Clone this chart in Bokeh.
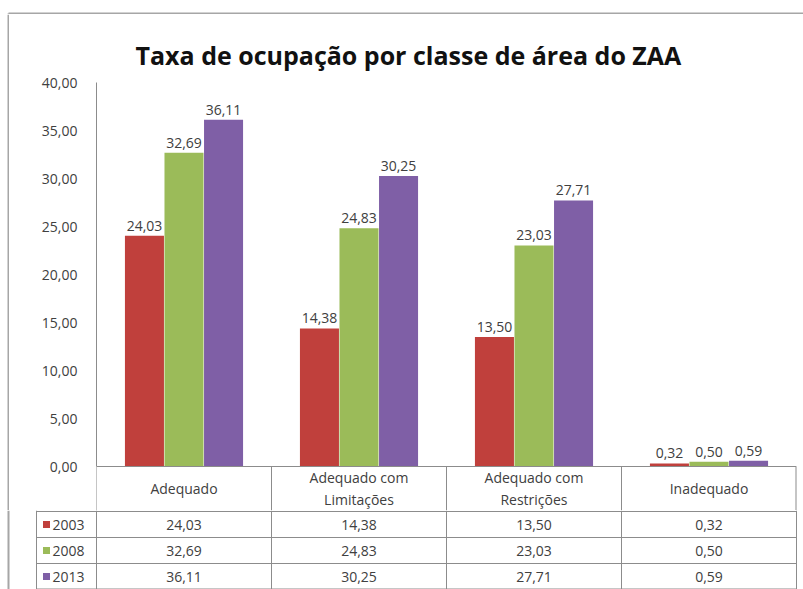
from bokeh.plotting import figure
from bokeh.models import (FactorRange, Range1d, FixedTicker, CustomJSTickFormatter,
                          ColumnDataSource, Span)
from bokeh.transform import dodge
from bokeh.layouts import column, row
from bokeh.embed import file_html
from bokeh.resources import INLINE
from bokeh.core.properties import value

# ---------------- data ----------------
title_text = "Taxa de ocupação por classe de área do ZAA"
categories = ["Adequado", "Adequado com Limitações", "Adequado com Restrições", "Inadequado"]
category_labels = ["Adequado", "Adequado com\nLimitações", "Adequado com\nRestrições", "Inadequado"]
years = ["2003", "2008", "2013"]
values_2003 = [24.03, 14.38, 13.50, 0.32]
values_2008 = [32.69, 24.83, 23.03, 0.50]
values_2013 = [36.11, 30.25, 27.71, 0.59]
y_ticks = [0, 5, 10, 15, 20, 25, 30, 35, 40]

# ---------------- style ----------------
colors = ["#C0403C", "#9BBB59", "#7F5FA6"]
FONT = "Open Sans"
TXT = "#404040"
GRID = "#8c8c8c"
FRAME = "#a6a6a6"
BAR_W = 0.223
offsets = [-0.226, 0.0, 0.226]
series = [values_2003, values_2008, values_2013]
PXU = 9.6      # pixels per y unit in the bar chart
HEAD_H = 44    # height of the table header row (px) drawn below the bars
ROW_H = 26


def fmt(v):
    return f"{v:.2f}".replace(".", ",")


def bare(fig):
    fig.xgrid.visible = False
    fig.ygrid.visible = False
    fig.outline_line_color = None
    fig.frame_align = False
    return fig


TOP_H = 14
PA_H = 496
PB_H = 589 - TOP_H - PA_H

# ---------------- outer frame strips ----------------
ft = bare(figure(x_range=Range1d(0, 803), y_range=Range1d(TOP_H, 0), width=803, height=TOP_H,
                 min_border_left=0, min_border_right=0, min_border_top=0, min_border_bottom=0,
                 x_axis_location=None, y_axis_location=None,
                 output_backend="svg", toolbar_location=None))
ft.segment(x0=[8, 8], y0=[13, 13], x1=[803, 8], y1=[13, TOP_H], line_color=FRAME, line_width=2)

fl = bare(figure(x_range=Range1d(0, 9), y_range=Range1d(PA_H, 0), width=9, height=PA_H,
                 min_border_left=0, min_border_right=0, min_border_top=0, min_border_bottom=0,
                 x_axis_location=None, y_axis_location=None,
                 output_backend="svg", toolbar_location=None))
fl.segment(x0=[8], y0=[0], x1=[8], y1=[PA_H], line_color=FRAME, line_width=2)

# ---------------- bar chart (+ table header row) ----------------
y_low = -HEAD_H / PXU
pa = bare(figure(x_range=FactorRange(*categories), y_range=Range1d(y_low, 40),
                 width=794, height=PA_H, min_border_left=87, min_border_right=7,
                 min_border_top=68, min_border_bottom=0, x_axis_location=None,
                 title=title_text, output_backend="svg", toolbar_location=None))

for yr, vals, col, off in zip(years, series, colors, offsets):
    src = ColumnDataSource(dict(cat=categories, val=vals, lbl=[fmt(v) for v in vals]))
    pa.vbar(x=dodge("cat", off, range=pa.x_range), top="val", width=BAR_W,
            source=src, fill_color=col, line_color=None)
    pa.text(x=dodge("cat", off, range=pa.x_range), y="val", text="lbl", source=src,
            text_align="center", text_baseline="bottom", y_offset=-5,
            text_font=value(FONT), text_font_size="14px", text_color=TXT)

# table top line, column separators and header labels
pa.add_layout(Span(location=0, dimension="width", line_color=GRID, line_width=1))
hdr = ColumnDataSource(dict(cat=categories, lbl=category_labels,
                            y0=[0] * len(categories), y1=[y_low] * len(categories),
                            ym=[y_low / 2] * len(categories)))
pa.segment(x0=dodge("cat", -0.5, range=pa.x_range), y0="y0",
           x1=dodge("cat", -0.5, range=pa.x_range), y1="y1", source=hdr,
           line_color=GRID, line_width=1)
sep_r = ColumnDataSource(dict(cat=categories[-1:], y0=[0], y1=[y_low]))
pa.segment(x0=dodge("cat", 0.5, range=pa.x_range), y0="y0",
           x1=dodge("cat", 0.5, range=pa.x_range), y1="y1", source=sep_r,
           line_color=GRID, line_width=2)
pa.text(x="cat", y="ym", text="lbl", source=hdr,
        text_align="center", text_baseline="middle", text_line_height=1.2,
        text_font=value(FONT), text_font_size="14px", text_color=TXT)

ax = pa.yaxis[0]
ax.ticker = FixedTicker(ticks=y_ticks)
ax.bounds = (0, 40)
ax.formatter = CustomJSTickFormatter(code="return tick.toFixed(2).replace('.', ',');")
ax.axis_line_color = GRID
ax.major_tick_line_color = None
ax.minor_tick_line_color = None
ax.major_label_standoff = 13
ax.major_label_text_font = FONT
ax.major_label_text_font_size = "14px"
ax.major_label_text_color = TXT

pa.title.text_font = FONT
pa.title.text_font_size = "25px"
pa.title.text_font_style = "bold"
pa.title.text_color = "#111111"
pa.title.align = "left"
pa.title.offset = 39
pa.title.vertical_align = "top"
pa.title.standoff = 18

# ---------------- data table rows ----------------
def cx(px):
    return (px - 96) / 175.0

pb = bare(figure(x_range=Range1d(cx(0), cx(803)), y_range=Range1d(HEAD_H + PB_H, HEAD_H),
                 width=803, height=PB_H, min_border_left=0, min_border_right=0,
                 min_border_top=0, min_border_bottom=0,
                 x_axis_location=None, y_axis_location=None,
                 output_backend="svg", toolbar_location=None))

n = len(categories)
y_top = HEAD_H + 1
bottom = HEAD_H + PB_H
hy = [y_top, y_top + ROW_H, y_top + 2 * ROW_H, bottom - 0.5]
pb.segment(x0=[cx(36)] * 4, y0=hy, x1=[n] * 4, y1=hy, line_color=GRID, line_width=1)
vx = list(range(n + 1)) + [cx(36)]
pb.segment(x0=vx, y0=[HEAD_H] * len(vx), x1=vx, y1=[bottom] * len(vx),
           line_color=GRID, line_width=1)
pb.segment(x0=[cx(8)], y0=[HEAD_H], x1=[cx(8)], y1=[bottom], line_color=FRAME, line_width=2)

for r, (yr, vals, col) in enumerate(zip(years, series, colors)):
    yc = y_top + ROW_H * r + ROW_H / 2
    pb.text(x=[i + 0.5 for i in range(n)], y=[yc] * n, text=[fmt(v) for v in vals],
            text_align="center", text_baseline="middle",
            text_font=value(FONT), text_font_size="14px", text_color=TXT)
    pb.scatter(x=[cx(46)], y=[yc], marker="square", size=7, fill_color=col, line_color=None)
    pb.text(x=[cx(52)], y=[yc], text=[yr], text_align="left", text_baseline="middle",
            text_font=value(FONT), text_font_size="14px", text_color=TXT)

layout = column(ft, row(fl, pa, spacing=0), pb, spacing=0)
open("out.html", "w").write(file_html(layout, INLINE))
